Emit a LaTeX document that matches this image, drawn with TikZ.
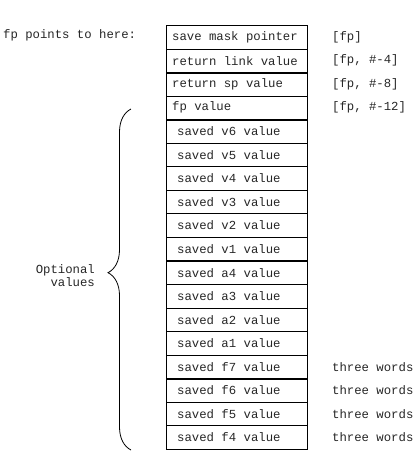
\documentclass[tikz,border=0pt]{standalone}
\usepackage{fontspec}
\setmonofont{Liberation Mono}
\usetikzlibrary{decorations.pathreplacing}
\tikzset{
  row/.style={draw, line width=0.7pt, minimum width=141pt, minimum height=23.55pt,
    inner sep=0pt, anchor=north west},
  lbl/.style={anchor=west, inner sep=0pt, font=\ttfamily\fontsize{12.3}{13}\selectfont, text=black!85},
  thickline/.style={line width=1.5pt},
}
\begin{document}
\begin{tikzpicture}[x=1pt,y=-1pt]
\useasboundingbox (0,0) rectangle (416,453);
\def\rh{23.55}
\foreach \i/\t/\ind in {0/save mask pointer/6pt, 1/return link value/6pt, 2/return sp value/6pt, 3/fp value/6pt,
  4/saved v6 value/11pt, 5/saved v5 value/11pt, 6/saved v4 value/11pt, 7/saved v3 value/11pt,
  8/saved v2 value/11pt, 9/saved v1 value/11pt, 10/saved a4 value/11pt, 11/saved a3 value/11pt,
  12/saved a2 value/11pt, 13/saved a1 value/11pt, 14/saved f7 value/11pt, 15/saved f6 value/11pt,
  16/saved f5 value/11pt, 17/saved f4 value/11pt}{
  \node[row] (r\i) at (166, 25+\i*\rh) {};
  \node[lbl] (t\i) at ([xshift=\ind]r\i.west) {\t};
}
% thicker separators and right edge
\foreach \i in {1,3,6,9,11,14}
  \draw[thickline] (r\i.south west) -- (r\i.south east);
\draw[thickline] (r0.north east) -- (r17.south east);
% left label
\node[lbl] (fp) at (3, 35) {fp points to here:};
% right labels
\node[lbl] (l0) at (332, 0|-r0) {[fp]};
\node[lbl] (l1) at (332, 0|-r1) {[fp, \#-4]};
\node[lbl] (l2) at (332, 0|-r2) {[fp, \#-8]};
\node[lbl] (l3) at (332, 0|-r3) {[fp, \#-12]};
\foreach \i in {14,15,16,17}
  \node[lbl] (w\i) at (332, 0|-r\i) {three words};
% brace
\coordinate (bb) at (131, 450);
\coordinate (bt) at (131, 109);
\draw[line width=0.8pt, decorate, decoration={brace, amplitude=23pt, aspect=0.52}] (bb) -- (bt);
\node[anchor=east, align=right, inner sep=0pt, font=\ttfamily\fontsize{12.3}{13}\selectfont, text=black!85] (opt) at (95, 276) {Optional\\values};
\end{tikzpicture}
\end{document}
